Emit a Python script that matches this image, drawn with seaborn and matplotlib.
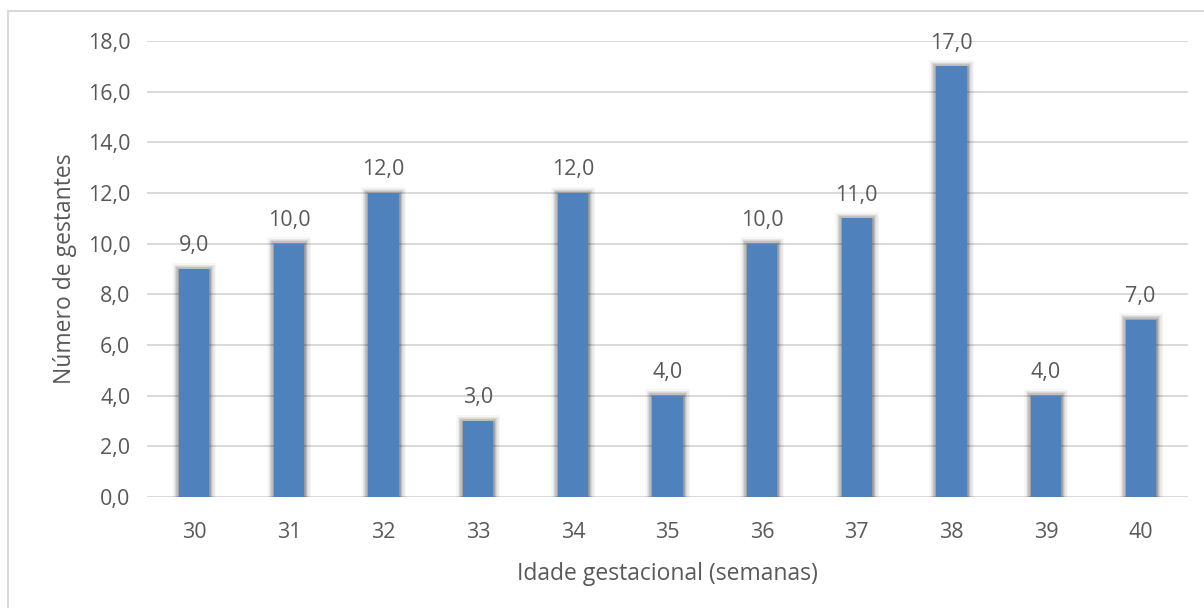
import matplotlib
matplotlib.use("Agg")
import matplotlib.pyplot as plt
import matplotlib.patheffects as pe
from matplotlib.patches import Rectangle
from matplotlib.ticker import FuncFormatter, MultipleLocator
import seaborn as sns
import pandas as pd

# Idade gestacional (semanas) e número de gestantes
semanas = ["30", "31", "32", "33", "34", "35", "36", "37", "38", "39", "40"]
gestantes = [9, 10, 12, 3, 12, 4, 10, 11, 17, 4, 7]

df = pd.DataFrame({"semana": semanas, "n": gestantes})

sns.set_theme(style="white")
plt.rcParams["font.family"] = ["Open Sans", "DejaVu Sans"]

text_color = "#595959"
grid_color = "#D9D9D9"
bar_color = "#4F81BD"

fig = plt.figure(figsize=(12.04, 6.08), dpi=100)
ax = fig.add_axes([147 / 1204, 1 - 497 / 608, (1188 - 147) / 1204, (497 - 41) / 608])

sns.barplot(data=df, x="semana", y="n", color=bar_color, saturation=1,
            width=0.32, ax=ax, zorder=3)

# soft shadow around each bar
shadow = [pe.Stroke(linewidth=lw, foreground="#000000", alpha=a, offset=(0, -0.5))
          for lw, a in [(10, 0.03), (8, 0.05), (6, 0.08), (4, 0.12), (2, 0.15)]] + [pe.Normal()]
for bar in ax.patches:
    bar.set_edgecolor("none")
    bar.set_path_effects(shadow)

ax.set_ylim(0, 18)
ax.set_xlim(-0.5, len(semanas) - 0.5)
ax.yaxis.set_major_locator(MultipleLocator(2))
ax.yaxis.set_major_formatter(FuncFormatter(lambda v, p: f"{v:.1f}".replace(".", ",")))
ax.grid(axis="y", color=grid_color, linewidth=1.4, zorder=0)
ax.set_axisbelow(True)
for s in ax.spines.values():
    s.set_visible(False)

ax.tick_params(axis="both", length=0, labelsize=15.5, labelcolor=text_color)
ax.tick_params(axis="y", pad=12)
ax.tick_params(axis="x", pad=18)

for bar, v in zip(ax.patches, gestantes):
    ax.annotate(f"{v:.1f}".replace(".", ","),
                (bar.get_x() + bar.get_width() / 2, v),
                xytext=(0, 9), textcoords="offset points",
                ha="center", va="bottom", fontsize=15.5, color=text_color)

ax.set_xlabel("Idade gestacional (semanas)", fontsize=16.5, color=text_color, labelpad=14)
ax.set_ylabel("Número de gestantes", fontsize=16.5, color=text_color, labelpad=8)

# chart frame
fig.patches.append(Rectangle((8 / 1204, -0.1), 2.0, 1.1 - 11 / 608,
                             transform=fig.transFigure, fill=False,
                             edgecolor=grid_color, linewidth=1.5))

fig.savefig("out.png", dpi=100)
